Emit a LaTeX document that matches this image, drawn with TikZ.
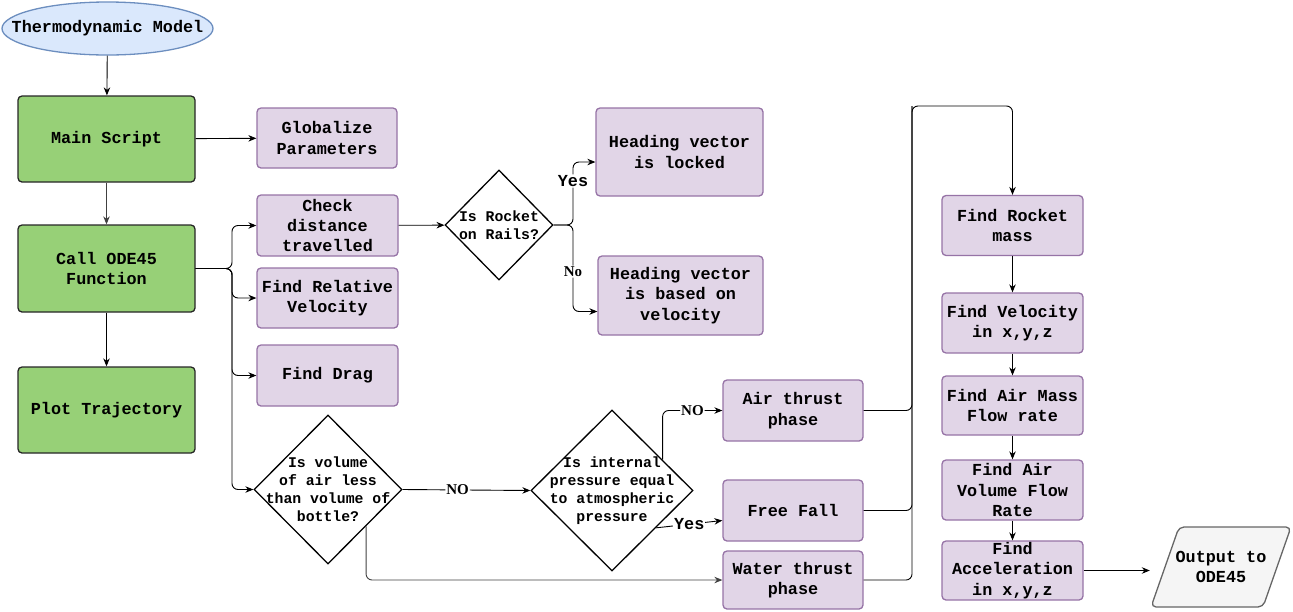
\documentclass[tikz,border=0pt]{standalone}
\usepackage{fontspec}
\setmonofont{Liberation Mono}
\newfontfamily\lblserif{Liberation Serif}
\usetikzlibrary{shapes.geometric,arrows.meta,calc,backgrounds}
\definecolor{greenF}{HTML}{97D077}
\definecolor{purpF}{HTML}{E1D5E7}
\definecolor{purpS}{HTML}{9673A6}
\definecolor{blueF}{HTML}{DAE8FC}
\definecolor{blueS}{HTML}{6C8EBF}
\definecolor{grayF}{HTML}{F5F5F5}
\definecolor{grayS}{HTML}{666666}
\newcommand\bxfont{\ttfamily\bfseries\fontsize{16.8}{20.3}\selectfont}
\newcommand\dxfont{\ttfamily\bfseries\fontsize{14.8}{18}\selectfont}
\newcommand\lbfont{\lblserif\bfseries\fontsize{15}{17}\selectfont}
\begin{document}
\begin{tikzpicture}[x=1pt,y=-1pt,
  box/.style={rectangle, rounded corners=4pt, draw=purpS, fill=purpF, line width=1.3pt, inner sep=0pt, align=center, font=\bxfont},
  gbox/.style={box, fill=greenF, draw=black!85},
  dia/.style={diamond, draw=black, line width=1.3pt, inner sep=0pt, fill=white},
  dtext/.style={align=center, font=\dxfont, inner sep=0pt},
  arr/.style={-{Stealth[length=8pt,width=6.5pt]}, line width=0.9pt, rounded corners=6pt},
  lbl/.style={fill=white, inner sep=1pt, font=\lbfont},
  ylbl/.style={fill=white, inner sep=1pt, font=\bxfont}]
\useasboundingbox (0,0) rectangle (1293,611);

% left column
\node[ellipse, draw=blueS, fill=blueF, line width=1.3pt, minimum width=211pt, minimum height=53pt, inner sep=0pt] (thermo) at (107.5,28.5) {};
\node[inner sep=0pt, font=\bxfont] (thermot) at (thermo) {Thermodynamic Model};
\node[gbox, minimum width=177pt, minimum height=86pt] (main) at (106.5,139) {Main Script};
\node[gbox, minimum width=177pt, minimum height=87pt] (call) at (106.5,268.5) {Call ODE45\\Function};
\node[gbox, minimum width=177pt, minimum height=86pt] (plot) at (106.5,410) {Plot Trajectory};

% second column
\node[box, minimum width=140pt, minimum height=60pt] (glob) at (327,138) {Globalize\\Parameters};
\node[box, minimum width=141pt, minimum height=61pt] (check) at (327.5,225.5) {Check\\distance\\travelled};
\node[box, minimum width=141pt, minimum height=60pt] (frv) at (327.5,298) {Find Relative\\Velocity};
\node[box, minimum width=141pt, minimum height=61pt] (drag) at (327.5,375.5) {Find Drag};

% decisions
\node[dia, minimum width=108pt, minimum height=110pt] (rocket) at (499,225) {};
\node[dtext] (rockett) at (rocket) {Is Rocket\\on Rails?};
\node[dia, minimum width=148pt, minimum height=149pt] (vol) at (328,489.5) {};
\node[dtext] (volt) at (vol) {Is volume\\of air less\\than volume of\\bottle?};
\node[dia, minimum width=162pt, minimum height=161pt] (pres) at (612,490.5) {};
\node[dtext] (prest) at (pres) {Is internal\\pressure equal\\to atmospheric\\pressure};

% heading boxes
\node[box, minimum width=167pt, minimum height=88pt] (locked) at (679.5,152) {Heading vector\\is locked};
\node[box, minimum width=165pt, minimum height=79pt] (based) at (680.5,295.5) {Heading vector\\is based on\\velocity};

% phases
\node[box, minimum width=140pt, minimum height=61pt] (air) at (793,410.5) {Air thrust\\phase};
\node[box, minimum width=140pt, minimum height=61pt] (ff) at (793,510.5) {Free Fall};
\node[box, minimum width=140pt, minimum height=58pt] (water) at (793,580) {Water thrust\\phase};

% right column
\node[box, minimum width=141pt, minimum height=60pt] (mass) at (1012.5,225.5) {Find Rocket\\mass};
\node[box, minimum width=141pt, minimum height=60pt] (vel) at (1012.5,323) {Find Velocity\\in x,y,z};
\node[box, minimum width=141pt, minimum height=59pt] (amf) at (1012.5,405.5) {Find Air Mass\\Flow rate};
\node[box, minimum width=141pt, minimum height=60pt] (avf) at (1012.5,490) {Find Air\\Volume Flow\\Rate};
\node[box, minimum width=141pt, minimum height=59pt] (acc) at (1012.5,570.5) {Find\\Acceleration\\in x,y,z};

% output
\node[rectangle, minimum width=142pt, minimum height=80pt, inner sep=0pt, align=center, font=\bxfont] (out) at (1221,567) {Output to\\ODE45};
\begin{scope}[on background layer]
  \draw[fill=grayF, draw=grayS, line width=1.3pt, rounded corners=5pt]
    (1179,527) -- (1291,527) -- (1263,607) -- (1151,607) -- cycle;
\end{scope}

% bus coordinates
\coordinate (busL) at (232,268);
\coordinate (busY) at (573,225);
\coordinate (busR) at (912,106);

% connectors
\draw[arr] (thermo) -- (main);
\draw[arr] (main) -- (glob);
\draw[arr, draw=black!75] (main) -- (call);
\draw[arr] (call) -- (plot);

\draw[arr] (call.east) -- (call.east -| busL) |- (check.west);
\draw[arr] (call.east) -- (call.east -| busL) |- (frv.west);
\draw[arr] (call.east) -- (call.east -| busL) |- (drag.west);
\draw[arr] (call.east) -- (call.east -| busL) |- (vol.west);

\draw[arr] (check) -- (rocket);
\draw[arr] (rocket.east) -- (busY) |- ($(locked.west)+(0,10)$) node[pos=0.35, ylbl] (yes1) {Yes};
\draw[arr] (rocket.east) -- (busY) |- ($(based.west)+(0,16)$) node[pos=0.27, lbl] (no1) {No};

\draw[arr] (vol.east) -- (pres.west) node[pos=0.43, lbl] (no2) {NO};
\draw[arr, draw=black!75] ($(vol.east)!0.49!(vol.south)$) |- (water.west);

\draw[arr] ($(pres.north)!0.62!(pres.east)$) |- (air.west) node[pos=0.75, lbl] (no3) {NO};
\draw[arr, rounded corners=0pt] ($(pres.east)!0.46!(pres.south)$) -- ($(ff.west)+(0,10)$) node[pos=0.5, ylbl] (yes2) {Yes};

\draw[arr] (water.east) -| (busR) -| (mass.north);
\draw[line width=0.9pt, rounded corners=6pt] (air.east) -| (busR);
\draw[line width=0.9pt, rounded corners=6pt] (ff.east) -| (busR);

\draw[arr] (mass) -- (vel);
\draw[arr] (vel) -- (amf);
\draw[arr] (amf) -- (avf);
\draw[arr] (avf) -- (acc);
\draw[arr] (acc.east) -- (acc.east -| out.west);
\end{tikzpicture}
\end{document}
